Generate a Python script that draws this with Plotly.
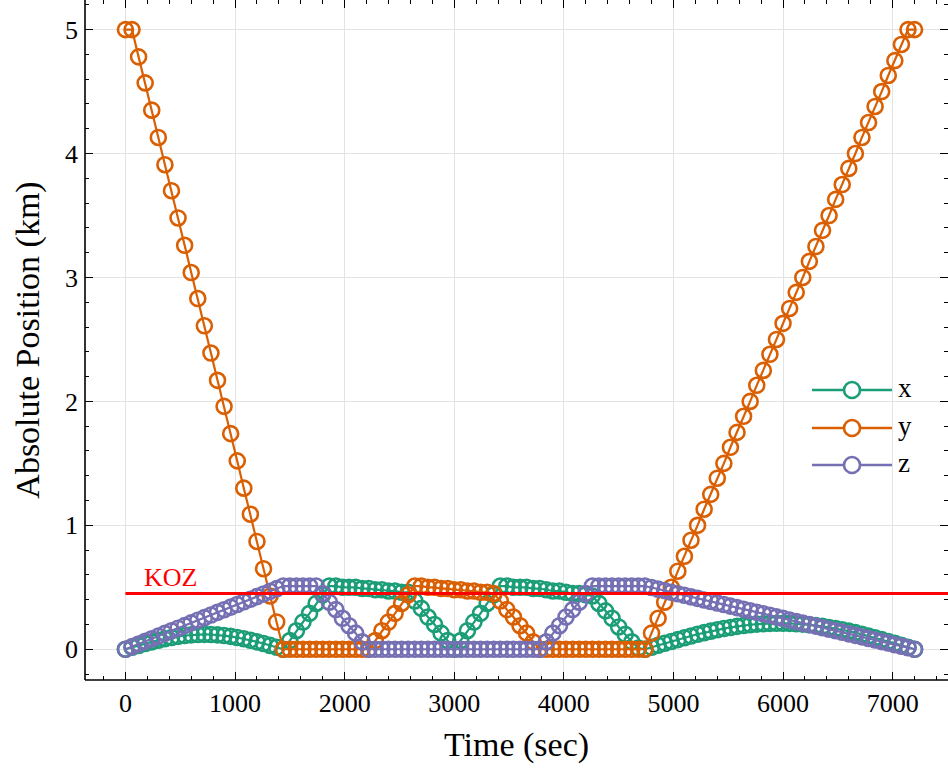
import plotly.graph_objects as go

# Sample times (s)
time_s = [
    0, 60, 120, 180, 240, 300, 360, 420, 480, 540,
    600, 660, 720, 780, 840, 900, 960, 1020, 1080, 1140,
    1200, 1260, 1320, 1380, 1440, 1500, 1560, 1620, 1680, 1740,
    1800, 1860, 1920, 1980, 2040, 2100, 2160, 2220, 2280, 2340,
    2400, 2460, 2520, 2580, 2640, 2700, 2760, 2820, 2880, 2940,
    3000, 3060, 3120, 3180, 3240, 3300, 3360, 3420, 3480, 3540,
    3600, 3660, 3720, 3780, 3840, 3900, 3960, 4020, 4080, 4140,
    4200, 4260, 4320, 4380, 4440, 4500, 4560, 4620, 4680, 4740,
    4800, 4860, 4920, 4980, 5040, 5100, 5160, 5220, 5280, 5340,
    5400, 5460, 5520, 5580, 5640, 5700, 5760, 5820, 5880, 5940,
    6000, 6060, 6120, 6180, 6240, 6300, 6360, 6420, 6480, 6540,
    6600, 6660, 6720, 6780, 6840, 6900, 6960, 7020, 7080, 7140,
    7200,
]

# |x| position (km)
pos_x = [
    0, .016, .031, .046, .060, .073, .085, .095, .104, .111,
    .116, .119, .120, .119, .116, .111, .104, .095, .085, .073,
    .060, .046, .031, .016, 0, .07, .15, .22, .29, .37,
    .44, .51, .51, .50, .50, .50, .49, .49, .48, .48,
    .47, .47, .46, .46, .39, .33, .26, .20, .13, .07,
    0, .07, .15, .22, .29, .37, .44, .51, .51, .50,
    .50, .50, .49, .49, .48, .47, .47, .46, .45, .45,
    .44, .43, .37, .31, .25, .18, .12, .06, .01, 0,
    .016, .032, .048, .063, .078, .093, .107, .121, .134, .146,
    .157, .167, .176, .185, .192, .198, .203, .206, .209, .210,
    .210, .209, .206, .203, .198, .192, .185, .176, .167, .157,
    .146, .134, .121, .107, .093, .078, .063, .048, .032, .016,
    0,
]

# |y| position (km)
pos_y = [
    5.00, 5.00, 4.78, 4.57, 4.35, 4.13, 3.91, 3.70, 3.48, 3.26,
    3.04, 2.83, 2.61, 2.39, 2.17, 1.96, 1.74, 1.52, 1.30, 1.09,
    0.87, 0.65, 0.43, 0.22, 0, 0, 0, 0, 0, 0,
    0, 0, 0, 0, 0, 0, 0, 0, .07, .15,
    .22, .29, .37, .44, .51, .51, .50, .50, .49, .49,
    .48, .48, .47, .47, .46, .46, .45, .39, .32, .26,
    .19, .13, .06, 0, 0, 0, 0, 0, 0, 0,
    0, 0, 0, 0, 0, 0, 0, 0, 0, 0,
    .13, .25, .38, .50, .63, .75, .88, 1.00, 1.13, 1.25,
    1.38, 1.50, 1.63, 1.75, 1.88, 2.00, 2.13, 2.25, 2.38, 2.50,
    2.63, 2.75, 2.88, 3.00, 3.13, 3.25, 3.38, 3.50, 3.63, 3.75,
    3.88, 4.00, 4.13, 4.25, 4.38, 4.50, 4.63, 4.75, 4.88, 5.00,
    5.00,
]

# |z| position (km)
pos_z = [
    0, .021, .043, .064, .085, .106, .128, .149, .170, .191,
    .213, .234, .255, .276, .298, .319, .340, .361, .383, .404,
    .425, .446, .468, .489, .51, .51, .51, .51, .51, .51,
    .45, .38, .32, .25, .19, .13, .06, 0, 0, 0,
    0, 0, 0, 0, 0, 0, 0, 0, 0, 0,
    0, 0, 0, 0, 0, 0, 0, 0, 0, 0,
    0, 0, 0, 0, .06, .13, .19, .26, .32, .38,
    .45, .51, .51, .51, .51, .51, .51, .51, .51, .51,
    .498, .485, .473, .460, .448, .436, .423, .411, .398, .386,
    .373, .361, .348, .336, .323, .311, .299, .286, .274, .261,
    .249, .236, .224, .211, .199, .187, .174, .162, .149, .137,
    .124, .112, .100, .087, .075, .062, .050, .037, .025, .012,
    0,
]

# Keep-out-zone radius (km) and the time span of its guide line
koz_level = 0.45
koz_span = [0, 8000]

series_names = ["x", "y", "z"]
series_colors = ["#1b9e77", "#d95f02", "#7570b3"]
x_ticks = [0, 1000, 2000, 3000, 4000, 5000, 6000, 7000]
y_ticks = [0, 1, 2, 3, 4, 5]

FONT = "Liberation Serif"

fig = go.Figure()
for name, vals, col in zip(series_names, [pos_x, pos_y, pos_z], series_colors):
    fig.add_trace(go.Scatter(
        x=time_s, y=vals, name=name, mode="lines+markers",
        line=dict(color=col, width=2.2),
        marker=dict(symbol="circle-open", size=15, color=col,
                    line=dict(color=col, width=2.6)),
    ))

fig.add_trace(go.Scatter(
    x=koz_span, y=[koz_level, koz_level], mode="lines",
    line=dict(color="#ff0000", width=3), name="KOZ", hoverinfo="skip",
))

fig.add_annotation(
    x=150, y=koz_level, xref="x", yref="y", text="KOZ", showarrow=False,
    xanchor="left", yanchor="bottom", yshift=0,
    font=dict(family=FONT, size=26, color="#ff0000"),
)

# Hand-drawn legend: line segment, open circle, label
leg_x0, leg_x1, leg_xm, leg_tx = 0.8424, 0.9351, 0.8888, 0.9400
leg_ys = [0.4265, 0.3706, 0.3162]
for name, col, ly in zip(series_names, series_colors, leg_ys):
    fig.add_shape(type="line", xref="paper", yref="paper",
                  x0=leg_x0, x1=leg_x1, y0=ly, y1=ly,
                  line=dict(color=col, width=2.6))
    fig.add_shape(type="circle", xref="paper", yref="paper",
                  xsizemode="pixel", ysizemode="pixel",
                  xanchor=leg_xm, yanchor=ly, x0=-8, x1=8, y0=-8, y1=8,
                  fillcolor="white", line=dict(color=col, width=2.6))
    fig.add_annotation(x=leg_tx, y=ly, xref="paper", yref="paper", text=name,
                       showarrow=False, xanchor="left", yanchor="middle",
                       yshift=2, font=dict(family=FONT, size=27, color="black"))

# Left and bottom spines (the mirrored sides carry ticks only)
fig.add_shape(type="line", xref="paper", yref="paper", x0=0, x1=0, y0=0, y1=1,
              line=dict(color="black", width=1.6), layer="above")
fig.add_shape(type="line", xref="paper", yref="paper", x0=0, x1=1, y0=0, y1=0,
              line=dict(color="black", width=1.6), layer="above")

axis_common = dict(
    showline=False, mirror="ticks",
    ticks="inside", ticklen=8, tickwidth=1.2, tickcolor="black",
    showgrid=True, gridcolor="#e3e3e3", gridwidth=1, zeroline=False,
    tickfont=dict(family=FONT, size=26, color="black"),
)

fig.update_xaxes(
    range=[-369, 7505], tickvals=x_ticks,
    minor=dict(dtick=200, tick0=0, ticks="inside", ticklen=4, tickwidth=1,
               tickcolor="black", showgrid=False),
    title=dict(text="Time (sec)", font=dict(family=FONT, size=34, color="black"),
               standoff=15),
    ticklabelstandoff=5,
    **axis_common,
)
fig.update_yaxes(
    range=[-0.248, 5.239], tickvals=y_ticks,
    minor=dict(dtick=0.2, tick0=0, ticks="inside", ticklen=4, tickwidth=1,
               tickcolor="black", showgrid=False),
    title=dict(text="Absolute Position (km)",
               font=dict(family=FONT, size=34, color="black"), standoff=15),
    ticklabelstandoff=6,
    **axis_common,
)

fig.update_layout(
    width=948, height=778,
    margin=dict(l=85, r=0, t=0, b=98),
    plot_bgcolor="white", paper_bgcolor="white",
    showlegend=False,
    font=dict(family=FONT, color="black"),
)

fig.write_html("out.html")
